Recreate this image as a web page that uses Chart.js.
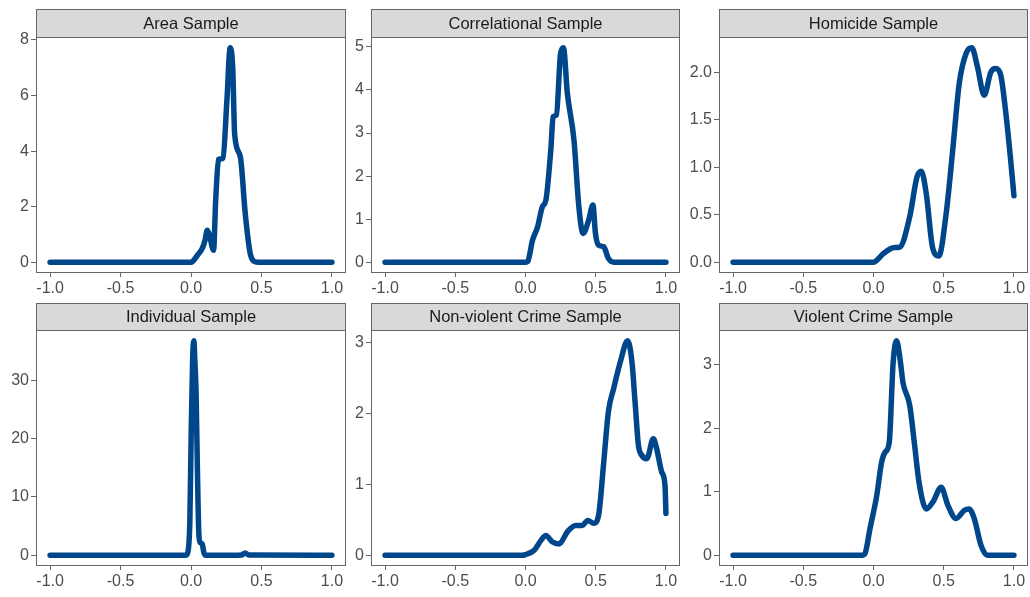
<!DOCTYPE html>
<html>
<head>
<meta charset="utf-8">
<script src="https://cdn.jsdelivr.net/npm/chart.js@4.4.1/dist/chart.umd.min.js"></script>
<style>
  html, body { margin: 0; padding: 0; background: #fff; }
  #wrap { position: relative; width: 1030px; height: 597px; overflow: hidden; }
  #wrap canvas { position: absolute; }
</style>
</head>
<body>
<div id="wrap"></div>
<script>
// ─── Data ───
const titles = ['Area Sample', 'Correlational Sample', 'Homicide Sample',
                'Individual Sample', 'Non-violent Crime Sample', 'Violent Crime Sample'];

const xTicks = [-1, -0.5, 0, 0.5, 1];
const xTickLabels = ['-1.0', '-0.5', '0.0', '0.5', '1.0'];

const areaX = [-1, 0, 0.01, 0.045, 0.08, 0.1, 0.115, 0.13, 0.16, 0.175, 0.195, 0.21, 0.227, 0.255, 0.278, 0.296, 0.31, 0.35, 0.385, 0.42, 0.455, 0.48, 1];
const areaY = [0, 0, 0.02, 0.25, 0.5, 0.8, 1.15, 1.0, 0.43, 2.2, 3.7, 3.72, 3.75, 5.84, 7.72, 7.0, 4.6, 3.8, 1.75, 0.32, 0.02, 0, 0];
const areaTicks = [0, 2, 4, 6, 8];
const areaTickLabels = ['0', '2', '4', '6', '8'];

const corrX = [-1, 0, 0.016, 0.05, 0.086, 0.12, 0.145, 0.18, 0.197, 0.22, 0.25, 0.27, 0.298, 0.345, 0.38, 0.41, 0.45, 0.48, 0.498, 0.52, 0.557, 0.59, 0.63, 1];
const corrY = [0, 0, 0.02, 0.51, 0.82, 1.29, 1.44, 2.6, 3.38, 3.42, 4.85, 4.98, 3.92, 2.84, 1.29, 0.67, 0.98, 1.33, 0.67, 0.4, 0.36, 0.09, 0, 0];
const corrTicks = [0, 1, 2, 3, 4, 5];
const corrTickLabels = ['0', '1', '2', '3', '4', '5'];

const homX = [-1, 0, 0.01, 0.07, 0.117, 0.15, 0.187, 0.258, 0.31, 0.34, 0.376, 0.42, 0.465, 0.517, 0.564, 0.61, 0.659, 0.7, 0.74, 0.788, 0.835, 0.87, 0.906, 0.94, 0.977, 1];
const homY = [0, 0, 0.005, 0.09, 0.14, 0.155, 0.16, 0.48, 0.9, 0.96, 0.72, 0.16, 0.065, 0.51, 1.18, 1.88, 2.2, 2.26, 2.06, 1.76, 2.0, 2.04, 1.97, 1.6, 1.07, 0.7];
const homTicks = [0, 0.5, 1, 1.5, 2];
const homTickLabels = ['0.0', '0.5', '1.0', '1.5', '2.0'];

const indX = [-1, -0.035, -0.02, -0.008, 0.002, 0.012, 0.02, 0.028, 0.036, 0.046, 0.056, 0.065, 0.08, 0.092, 0.105, 0.3, 0.36, 0.385, 0.41, 1];
const indY = [0, 0, 0.8, 6, 22, 34, 36.8, 33, 28, 14, 3.5, 2.2, 1.9, 0.4, 0, 0, 0.05, 0.4, 0.05, 0];
const indTicks = [0, 10, 20, 30];
const indTickLabels = ['0', '10', '20', '30'];

const nonvX = [-1, -0.02, 0, 0.062, 0.11, 0.145, 0.19, 0.24, 0.298, 0.357, 0.404, 0.444, 0.486, 0.52, 0.557, 0.59, 0.628, 0.675, 0.727, 0.758, 0.78, 0.804, 0.827, 0.864, 0.91, 0.934, 0.97, 0.993, 1];
const nonvY = [0, 0, 0.01, 0.07, 0.21, 0.28, 0.19, 0.16, 0.33, 0.42, 0.42, 0.49, 0.45, 0.56, 1.31, 2.02, 2.35, 2.72, 3.02, 2.72, 2.16, 1.55, 1.41, 1.36, 1.64, 1.5, 1.17, 0.99, 0.59];
const nonvTicks = [0, 1, 2, 3];
const nonvTickLabels = ['0', '1', '2', '3'];

const violX = [-1, -0.08, -0.06, -0.025, 0.023, 0.058, 0.081, 0.112, 0.14, 0.164, 0.192, 0.21, 0.258, 0.293, 0.324, 0.376, 0.423, 0.482, 0.529, 0.588, 0.647, 0.68, 0.717, 0.765, 0.81, 1];
const violY = [0, 0, 0.03, 0.42, 0.94, 1.47, 1.62, 1.78, 3.04, 3.38, 3.04, 2.72, 2.36, 1.73, 1.15, 0.73, 0.84, 1.07, 0.79, 0.58, 0.71, 0.73, 0.58, 0.16, 0, 0];
const violTicks = [0, 1, 2, 3];
const violTickLabels = ['0', '1', '2', '3'];

// ─── Layout (pixel frame of each facet) ───
const colLeft = [36, 371, 719];
const colRight = [346, 680, 1028];
const rowStrip = [9, 303];
const rowTop = [37, 330];
const rowBottom = [273, 566];
const Y_AXIS_W = 36;
const X_AXIS_H = 30;

const LINE_COLOR = '#00468B';
const FONT = '"Liberation Sans", Arial, sans-serif';

const facetFrame = {
    id: 'facetFrame',
    afterDraw: (chart) => {
        const { ctx, chartArea: a } = chart;
        const w = a.right - a.left;
        ctx.save();
        // strip
        ctx.fillStyle = '#D9D9D9';
        ctx.fillRect(a.left, 0, w, a.top);
        ctx.strokeStyle = '#666666';
        ctx.lineWidth = 1;
        ctx.strokeRect(a.left + 0.5, 0.5, w - 1, a.top);
        // panel border
        ctx.strokeRect(a.left + 0.5, a.top + 0.5, w - 1, a.bottom - a.top - 1);
        // strip text
        ctx.fillStyle = '#1A1A1A';
        ctx.font = '16.5px ' + FONT;
        ctx.textAlign = 'center';
        ctx.textBaseline = 'middle';
        ctx.fillText(chart.options.plugins.facetFrame.title, a.left + w / 2, a.top / 2 + 1);
        ctx.restore();
    },
};

function createFacet(idx, title, xs, ys, yTicks, yTickLabels) {
    const col = idx % 3;
    const row = Math.floor(idx / 3);
    const plotW = colRight[col] - colLeft[col];
    const stripH = rowTop[row] - rowStrip[row];

    const canvas = document.createElement('canvas');
    canvas.width = plotW + Y_AXIS_W + 2;
    canvas.height = rowBottom[row] - rowStrip[row] + X_AXIS_H;
    canvas.style.left = (colLeft[col] - Y_AXIS_W) + 'px';
    canvas.style.top = rowStrip[row] + 'px';
    document.getElementById('wrap').appendChild(canvas);

    const yMax = Math.max(...ys);
    const tickStyle = { color: '#4D4D4D', font: { family: FONT, size: 16 } };

    return new Chart(canvas, {
        type: 'line',
        data: {
            datasets: [{
                data: xs.map((x, k) => ({ x, y: ys[k] })),
                borderColor: LINE_COLOR,
                borderWidth: 5.5,
                borderCapStyle: 'round',
                borderJoinStyle: 'round',
                pointRadius: 0,
                cubicInterpolationMode: 'monotone',
                fill: false,
            }],
        },
        options: {
            responsive: false,
            animation: false,
            devicePixelRatio: 1,
            events: [],
            layout: { padding: { top: stripH, right: 2, left: 0, bottom: 0 } },
            plugins: {
                legend: { display: false },
                tooltip: { enabled: false },
                facetFrame: { title },
            },
            scales: {
                x: {
                    type: 'linear',
                    min: -1.1,
                    max: 1.1,
                    afterBuildTicks: (s) => { s.ticks = xTicks.map(v => ({ value: v })); },
                    afterFit: (s) => { s.height = X_AXIS_H; },
                    grid: { drawOnChartArea: false, drawTicks: true, tickLength: 4, color: '#666666' },
                    border: { display: false },
                    ticks: { ...tickStyle, padding: 2, maxRotation: 0, autoSkip: false,
                             callback: (v, i) => xTickLabels[i] },
                },
                y: {
                    type: 'linear',
                    min: -0.05 * yMax,
                    max: 1.05 * yMax,
                    afterBuildTicks: (s) => { s.ticks = yTicks.map(v => ({ value: v })); },
                    afterFit: (s) => { s.width = Y_AXIS_W; },
                    grid: { drawOnChartArea: false, drawTicks: true, tickLength: 5, color: '#666666' },
                    border: { display: false },
                    ticks: { ...tickStyle, padding: 2, autoSkip: false,
                             callback: (v, i) => yTickLabels[i] },
                },
            },
        },
        plugins: [facetFrame],
    });
}

createFacet(0, titles[0], areaX, areaY, areaTicks, areaTickLabels);
createFacet(1, titles[1], corrX, corrY, corrTicks, corrTickLabels);
createFacet(2, titles[2], homX, homY, homTicks, homTickLabels);
createFacet(3, titles[3], indX, indY, indTicks, indTickLabels);
createFacet(4, titles[4], nonvX, nonvY, nonvTicks, nonvTickLabels);
createFacet(5, titles[5], violX, violY, violTicks, violTickLabels);
</script>
</body>
</html>
